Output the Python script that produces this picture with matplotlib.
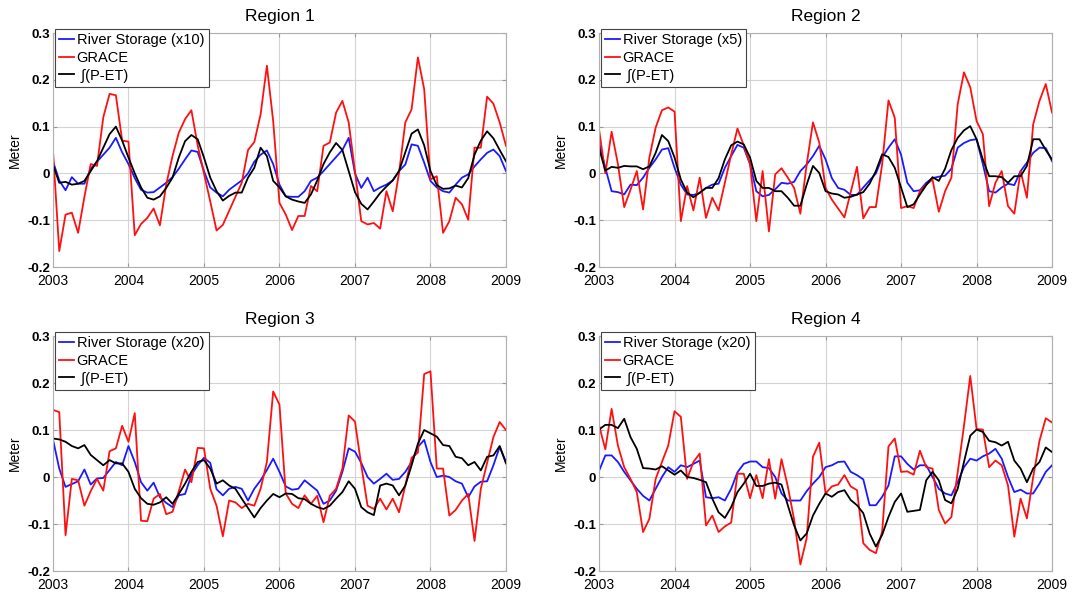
import numpy as np
import matplotlib
matplotlib.use('Agg')
import matplotlib.pyplot as plt

plt.rcParams['font.family'] = ['Liberation Sans', 'DejaVu Sans']

# monthly samples, Jan 2003 .. Jan 2009
months = 2003 + np.arange(73) / 12.0

titles = ['Region 1', 'Region 2', 'Region 3', 'Region 4']
river_labels = ['River Storage (x10)', 'River Storage (x5)',
                'River Storage (x20)', 'River Storage (x20)']
year_ticks = [2003, 2004, 2005, 2006, 2007, 2008, 2009]
meter_ticks = [-0.2, -0.1, 0, 0.1, 0.2, 0.3]
meter_labels = ['-0.2', '-0.1', '0', '0.1', '0.2', '0.3']

# Region 1
river_1 = [0.026, -0.015, -0.036, -0.008, -0.022, -0.022, 0.01, 0.025, 0.04, 0.055,
           0.076, 0.045, 0.02, -0.01, -0.035, -0.041, -0.04, -0.03, -0.02, -0.008,
           0.01, 0.03, 0.049, 0.046, 0.005, -0.03, -0.041, -0.049, -0.035, -0.025,
           -0.015, 0.0, 0.025, 0.04, 0.049, 0.02, -0.024, -0.049, -0.05, -0.05,
           -0.038, -0.016, -0.009, 0.005, 0.02, 0.035, 0.05, 0.076, 0.0, -0.031,
           -0.009, -0.038, -0.03, -0.024, -0.015, 0.005, 0.019, 0.062, 0.059, 0.023,
           -0.016, -0.03, -0.038, -0.041, -0.024, -0.009, -0.002, 0.015, 0.03, 0.044,
           0.051, 0.037, 0.005]
grace_1 = [0.05, -0.166, -0.088, -0.084, -0.127, -0.05, 0.02, 0.016, 0.12, 0.17,
           0.167, 0.07, 0.068, -0.132, -0.108, -0.095, -0.075, -0.111, -0.024, 0.037,
           0.087, 0.116, 0.135, 0.06, 0.0, -0.06, -0.122, -0.11, -0.08, -0.05,
           -0.02, 0.05, 0.067, 0.126, 0.23, 0.112, -0.063, -0.088, -0.121, -0.091,
           -0.091, -0.027, -0.038, 0.059, 0.066, 0.13, 0.155, 0.109, 0.005, -0.102,
           -0.109, -0.106, -0.118, -0.038, -0.081, 0.001, 0.109, 0.137, 0.248, 0.18,
           -0.013, -0.006, -0.127, -0.102, -0.052, -0.066, -0.099, 0.055, 0.055, 0.164,
           0.149, 0.109, 0.059]
pet_1 = [0.019, -0.02, -0.018, -0.024, -0.022, -0.016, 0.005, 0.026, 0.055, 0.084,
         0.1, 0.07, 0.034, 0.0, -0.03, -0.052, -0.056, -0.049, -0.031, -0.009,
         0.034, 0.069, 0.082, 0.073, 0.034, -0.009, -0.038, -0.058, -0.048, -0.041,
         -0.041, -0.009, 0.012, 0.055, 0.037, -0.016, -0.03, -0.049, -0.056, -0.06,
         -0.063, -0.045, -0.015, 0.02, 0.045, 0.065, 0.05, 0.005, -0.04, -0.065,
         -0.077, -0.06, -0.042, -0.028, -0.015, 0.005, 0.045, 0.085, 0.094, 0.06,
         0.005, -0.025, -0.033, -0.032, -0.026, -0.03, -0.01, 0.04, 0.07, 0.09,
         0.075, 0.05, 0.026]

# Region 2
river_2 = [0.066, 0.012, -0.038, -0.04, -0.045, -0.024, -0.025, -0.009, 0.012, 0.03,
           0.051, 0.054, 0.012, -0.024, -0.045, -0.046, -0.042, -0.031, -0.024, -0.022,
           0.012, 0.037, 0.061, 0.055, 0.02, -0.038, -0.049, -0.046, -0.034, -0.02,
           -0.022, -0.018, 0.005, 0.019, 0.037, 0.059, 0.03, -0.01, -0.031, -0.035,
           -0.046, -0.046, -0.03, -0.015, 0.0, 0.034, 0.055, 0.073, 0.04, -0.02,
           -0.038, -0.036, -0.02, -0.01, -0.007, -0.005, 0.01, 0.055, 0.065, 0.071,
           0.073, 0.02, -0.038, -0.041, -0.03, -0.022, -0.025, 0.005, 0.023, 0.044,
           0.055, 0.054, 0.026]
grace_2 = [0.094, 0.0, 0.089, 0.02, -0.072, -0.035, 0.005, -0.077, 0.034, 0.098,
           0.135, 0.141, 0.132, -0.102, -0.027, -0.079, -0.009, -0.095, -0.052, -0.079,
           -0.02, 0.04, 0.096, 0.06, 0.02, -0.102, 0.005, -0.124, -0.002, 0.011,
           -0.009, -0.031, -0.086, 0.019, 0.109, 0.066, -0.031, -0.056, -0.075, -0.094,
           -0.04, 0.014, -0.096, -0.072, -0.072, 0.02, 0.156, 0.119, -0.074, -0.07,
           -0.074, -0.038, -0.024, -0.013, -0.082, -0.038, -0.009, 0.148, 0.216, 0.184,
           0.112, 0.084, -0.07, -0.02, 0.005, -0.07, -0.086, 0.005, -0.052, 0.105,
           0.155, 0.191, 0.13]
pet_2 = [0.054, 0.006, 0.014, 0.012, 0.016, 0.015, 0.015, 0.009, 0.015, 0.044,
         0.082, 0.069, 0.034, -0.013, -0.041, -0.051, -0.041, -0.031, -0.031, -0.01,
         0.03, 0.06, 0.068, 0.062, 0.034, -0.016, -0.031, -0.031, -0.038, -0.038,
         -0.052, -0.069, -0.069, -0.024, 0.016, 0.001, -0.038, -0.043, -0.045, -0.052,
         -0.05, -0.045, -0.04, -0.022, 0.005, 0.041, 0.035, 0.012, -0.03, -0.072,
         -0.066, -0.045, -0.025, -0.008, -0.016, 0.01, 0.05, 0.076, 0.092, 0.101,
         0.073, 0.03, -0.006, -0.006, -0.008, -0.02, -0.006, -0.006, 0.016, 0.073,
         0.073, 0.05, 0.03]

# Region 3
river_3 = [0.08, 0.018, -0.021, -0.015, -0.009, 0.016, -0.016, -0.003, -0.002, 0.015,
           0.032, 0.025, 0.066, 0.032, -0.011, -0.029, -0.012, -0.043, -0.055, -0.064,
           -0.039, -0.036, 0.004, 0.025, 0.041, 0.03, -0.026, -0.039, -0.025, -0.021,
           -0.025, -0.05, -0.025, -0.007, 0.015, 0.039, 0.011, -0.02, -0.027, -0.025,
           -0.007, -0.018, -0.029, -0.057, -0.05, -0.029, 0.011, 0.061, 0.054, 0.03,
           0.0, -0.014, -0.004, 0.007, -0.006, -0.004, 0.011, 0.032, 0.064, 0.079,
           0.032, 0.0, 0.003, 0.0, -0.009, -0.014, -0.043, -0.02, -0.01, -0.009,
           0.025, 0.064, 0.032]
grace_3 = [0.143, 0.138, -0.124, -0.004, -0.007, -0.061, -0.03, -0.004, -0.029, 0.055,
           0.061, 0.109, 0.075, 0.136, -0.093, -0.094, -0.046, -0.036, -0.079, -0.074,
           -0.03, 0.016, -0.011, 0.062, 0.061, -0.025, -0.061, -0.126, -0.05, -0.054,
           -0.066, -0.057, -0.061, -0.025, 0.032, 0.182, 0.154, -0.035, -0.057, -0.066,
           -0.039, -0.057, -0.04, -0.096, -0.04, -0.025, 0.018, 0.131, 0.118, 0.025,
           -0.061, -0.068, -0.046, -0.069, -0.046, -0.075, -0.018, 0.041, 0.052, 0.219,
           0.225, 0.018, 0.018, -0.082, -0.07, -0.05, -0.036, -0.136, -0.025, 0.03,
           0.085, 0.117, 0.1]
pet_3 = [0.082, 0.08, 0.075, 0.066, 0.061, 0.068, 0.047, 0.036, 0.025, 0.036,
         0.029, 0.029, 0.011, -0.025, -0.045, -0.057, -0.059, -0.054, -0.043, -0.057,
         -0.036, -0.014, 0.011, 0.032, 0.036, 0.018, -0.014, -0.007, -0.018, -0.025,
         -0.046, -0.066, -0.086, -0.066, -0.05, -0.036, -0.043, -0.035, -0.036, -0.045,
         -0.047, -0.057, -0.064, -0.068, -0.061, -0.046, -0.032, -0.009, -0.025, -0.064,
         -0.075, -0.081, -0.018, -0.014, -0.018, -0.039, -0.018, 0.025, 0.071, 0.1,
         0.093, 0.086, 0.068, 0.066, 0.043, 0.04, 0.025, 0.032, 0.014, 0.043,
         0.046, 0.066, 0.029]

# Region 4
river_4 = [0.013, 0.046, 0.046, 0.032, 0.011, -0.007, -0.025, -0.04, -0.05, -0.025,
           0.0, 0.021, 0.011, 0.025, 0.021, 0.028, 0.035, -0.043, -0.045, -0.043,
           -0.05, -0.025, 0.01, 0.028, 0.033, 0.033, 0.021, 0.019, 0.0, -0.035,
           -0.05, -0.05, -0.05, -0.03, -0.014, 0.0, 0.021, 0.025, 0.032, 0.033,
           0.011, 0.004, -0.005, -0.06, -0.06, -0.042, -0.018, 0.044, 0.044, 0.028,
           0.016, 0.025, 0.025, 0.0, -0.025, -0.035, -0.039, -0.011, 0.021, 0.039,
           0.035, 0.044, 0.05, 0.06, 0.039, 0.0, -0.032, -0.027, -0.035, -0.035,
           -0.014, 0.011, 0.025]
grace_4 = [0.11, 0.059, 0.145, 0.067, 0.021, -0.004, -0.032, -0.117, -0.089, -0.004,
           0.032, 0.067, 0.14, 0.128, -0.004, 0.032, 0.05, -0.103, -0.082, -0.117,
           -0.105, -0.097, 0.007, 0.007, -0.045, 0.004, -0.045, 0.038, -0.046, 0.038,
           -0.02, -0.09, -0.186, -0.13, 0.043, 0.073, -0.035, -0.02, -0.016, 0.004,
           -0.02, -0.028, -0.141, -0.155, -0.162, -0.116, 0.065, 0.082, 0.011, 0.012,
           0.005, 0.056, 0.021, 0.018, -0.07, -0.099, -0.085, 0.01, 0.109, 0.215,
           0.102, 0.101, 0.021, 0.035, 0.025, -0.018, -0.127, -0.046, -0.088, 0.0,
           0.077, 0.125, 0.116]
pet_4 = [0.101, 0.111, 0.111, 0.104, 0.124, 0.085, 0.06, 0.019, 0.018, 0.016,
         0.023, 0.014, 0.005, 0.014, 0.0, -0.002, -0.006, -0.011, -0.046, -0.075,
         -0.087, -0.064, -0.032, -0.014, 0.007, -0.019, -0.019, -0.014, -0.012, -0.016,
         -0.06, -0.103, -0.135, -0.12, -0.082, -0.057, -0.035, -0.042, -0.032, -0.028,
         -0.049, -0.06, -0.077, -0.12, -0.148, -0.123, -0.085, -0.053, -0.035, -0.074,
         -0.072, -0.07, -0.007, 0.011, -0.007, -0.049, -0.056, -0.025, 0.032, 0.088,
         0.101, 0.096, 0.077, 0.074, 0.067, 0.075, 0.035, 0.018, -0.011, 0.018,
         0.032, 0.063, 0.053]

river = [river_1, river_2, river_3, river_4]
grace = [grace_1, grace_2, grace_3, grace_4]
pet = [pet_1, pet_2, pet_3, pet_4]

fig = plt.figure(figsize=(10.72, 5.96), dpi=100)
boxes = [[0.0494, 0.552, 0.4226, 0.3926],
         [0.5588, 0.552, 0.4226, 0.3926],
         [0.0494, 0.0419, 0.4226, 0.3943],
         [0.5588, 0.0419, 0.4226, 0.3943]]

for k in range(4):
    ax = fig.add_axes(boxes[k])
    ax.plot(months, river[k], color='#1a1aff', lw=1.3, label=river_labels[k])
    ax.plot(months, grace[k], color='#ff1010', lw=1.3, label='GRACE')
    ax.plot(months, pet[k], color='black', lw=1.3, label=' \u222b(P-ET)')
    ax.set_xlim(2003, 2009)
    ax.set_ylim(-0.2, 0.3)
    ax.set_xticks(year_ticks)
    ax.set_xticklabels([str(y) for y in year_ticks], fontsize=10)
    ax.set_yticks(meter_ticks)
    ax.set_yticklabels(meter_labels, fontsize=9.5, fontweight='bold')
    ax.grid(True, color='#d4d4d4', lw=0.8)
    ax.set_axisbelow(True)
    ax.tick_params(direction='in', length=3, color='#999999', top=True, right=True)
    ax.tick_params(axis='x', pad=5)
    ax.tick_params(axis='y', pad=2)
    for s in ax.spines.values():
        s.set_color('#b0b0b0')
        s.set_linewidth(0.8)
    ax.set_title(titles[k], fontsize=12.5, pad=9)
    ax.set_ylabel('Meter', fontsize=10, labelpad=4)
    leg = ax.legend(loc='upper left', bbox_to_anchor=(0.004, 1.018), borderaxespad=0,
                    fontsize=10.5, handlelength=1.0, handletextpad=0.2,
                    labelspacing=0.25, borderpad=0.3, fancybox=False, framealpha=1)
    leg.get_frame().set_edgecolor('#444444')
    leg.get_frame().set_linewidth(0.8)

fig.savefig('out.png', dpi=100)
